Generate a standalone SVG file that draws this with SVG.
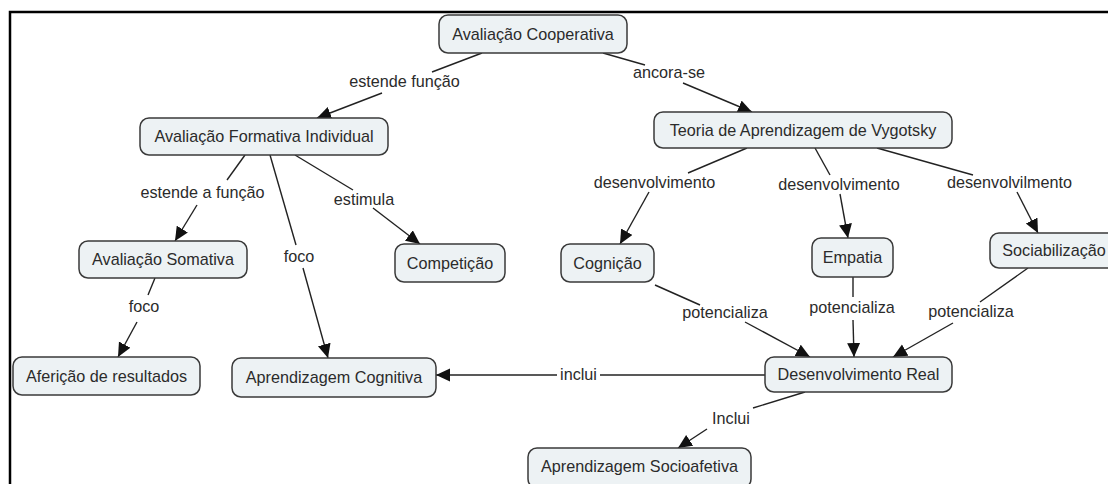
<svg xmlns="http://www.w3.org/2000/svg" width="1108" height="484" viewBox="0 0 1108 484">
<defs>
<marker id="arr" markerUnits="userSpaceOnUse" markerWidth="16" markerHeight="14" refX="14" refY="6.5" orient="auto">
<path d="M0,0 L14,6.5 L0,13 z" fill="#111"/>
</marker>
<style>
.box{fill:#edf2f4;stroke:#3a3a3a;stroke-width:1.5}
.t{font-family:"Liberation Sans",Arial,sans-serif;font-size:16.2px;fill:#2b2b2b;text-anchor:middle}
.ln{stroke:#222;stroke-width:1.4;fill:none}
.ar{marker-end:url(#arr)}
</style>
</defs>
<rect width="1108" height="484" fill="#fff"/>
<path d="M10,484 V12 H1108" fill="none" stroke="#000" stroke-width="2.5"/>

<g id="connectors">
<line class="ln" x1="482" y1="53" x2="432" y2="72"/>
<line class="ln ar" x1="382" y1="93" x2="317" y2="118"/>
<line class="ln" x1="603" y1="53" x2="645" y2="65"/>
<line class="ln ar" x1="683" y1="83" x2="752" y2="112"/>
<line class="ln" x1="245" y1="155" x2="227" y2="180"/>
<line class="ln ar" x1="197" y1="205" x2="175" y2="241"/>
<line class="ln" x1="270" y1="155" x2="296" y2="245"/>
<line class="ln ar" x1="303" y1="268" x2="328" y2="358"/>
<line class="ln" x1="295" y1="155" x2="353" y2="190"/>
<line class="ln ar" x1="373" y1="208" x2="420" y2="244"/>
<line class="ln" x1="155" y1="278" x2="148" y2="295"/>
<line class="ln ar" x1="137" y1="322" x2="118" y2="357"/>
<line class="ln" x1="747" y1="148" x2="688" y2="173"/>
<line class="ln ar" x1="649" y1="192" x2="620" y2="244"/>
<line class="ln" x1="815" y1="148" x2="830" y2="175"/>
<line class="ln ar" x1="840" y1="194" x2="848" y2="238"/>
<line class="ln" x1="877" y1="148" x2="973" y2="175"/>
<line class="ln ar" x1="1017" y1="192" x2="1038" y2="233"/>
<line class="ln" x1="655" y1="285" x2="700" y2="305"/>
<line class="ln ar" x1="745" y1="322" x2="810" y2="357"/>
<line class="ln" x1="853" y1="277" x2="853" y2="297"/>
<line class="ln ar" x1="853" y1="320" x2="854" y2="357"/>
<line class="ln" x1="1028" y1="268" x2="980" y2="302"/>
<line class="ln ar" x1="953" y1="323" x2="893" y2="357"/>
<line class="ln" x1="765" y1="375" x2="600" y2="375"/>
<line class="ln ar" x1="557" y1="375" x2="436" y2="375"/>
<line class="ln" x1="805" y1="392" x2="753" y2="408"/>
<line class="ln ar" x1="707" y1="429" x2="678" y2="448"/>

<text class="t" x="404.5" y="87">estende função</text>
<text class="t" x="669" y="78">ancora-se</text>
<text class="t" x="202.5" y="198">estende a função</text>
<text class="t" x="364" y="205">estimula</text>
<text class="t" x="299" y="262">foco</text>
<text class="t" x="144" y="312">foco</text>
<text class="t" x="654.5" y="188">desenvolvimento</text>
<text class="t" x="839" y="190">desenvolvimento</text>
<text class="t" x="1009.5" y="188">desenvolvilmento</text>
<text class="t" x="725" y="318">potencializa</text>
<text class="t" x="852" y="313">potencializa</text>
<text class="t" x="971" y="317">potencializa</text>
<text class="t" x="578.5" y="380">inclui</text>
<text class="t" x="731" y="424">Inclui</text>
</g>

<g id="n-coop"><rect class="box" x="439" y="15" width="188" height="38" rx="9"/><text class="t" x="533" y="39.5">Avaliação Cooperativa</text></g>
<g id="n-formativa"><rect class="box" x="140" y="118" width="248" height="37" rx="9"/><text class="t" x="264" y="142">Avaliação Formativa Individual</text></g>
<g id="n-teoria"><rect class="box" x="654" y="112" width="298" height="36" rx="9"/><text class="t" x="803" y="135.5">Teoria de Aprendizagem de Vygotsky</text></g>
<g id="n-somativa"><rect class="box" x="79" y="241" width="168" height="37" rx="9"/><text class="t" x="163" y="265">Avaliação Somativa</text></g>
<g id="n-competicao"><rect class="box" x="395" y="244" width="110" height="38" rx="9"/><text class="t" x="450" y="268.5">Competição</text></g>
<g id="n-cognicao"><rect class="box" x="561" y="244" width="93" height="38" rx="9"/><text class="t" x="607.5" y="268.5">Cognição</text></g>
<g id="n-empatia"><rect class="box" x="812" y="238" width="81" height="39" rx="9"/><text class="t" x="852.5" y="263">Empatia</text></g>
<g id="n-sociabilizacao"><rect class="box" x="990" y="233" width="130" height="35" rx="9"/><text class="t" x="1054" y="256">Sociabilização</text></g>
<g id="n-afericao"><rect class="box" x="13" y="357" width="187" height="38" rx="9"/><text class="t" x="106.5" y="381.5">Aferição de resultados</text></g>
<g id="n-aprcog"><rect class="box" x="232" y="358" width="204" height="39" rx="9"/><text class="t" x="334" y="383">Aprendizagem Cognitiva</text></g>
<g id="n-devreal"><rect class="box" x="765" y="357" width="187" height="35" rx="9"/><text class="t" x="858.5" y="380">Desenvolvimento Real</text></g>
<g id="n-socioafetiva"><rect class="box" x="528" y="448" width="223" height="40" rx="9"/><text class="t" x="639.5" y="471.5">Aprendizagem Socioafetiva</text></g>
</svg>
